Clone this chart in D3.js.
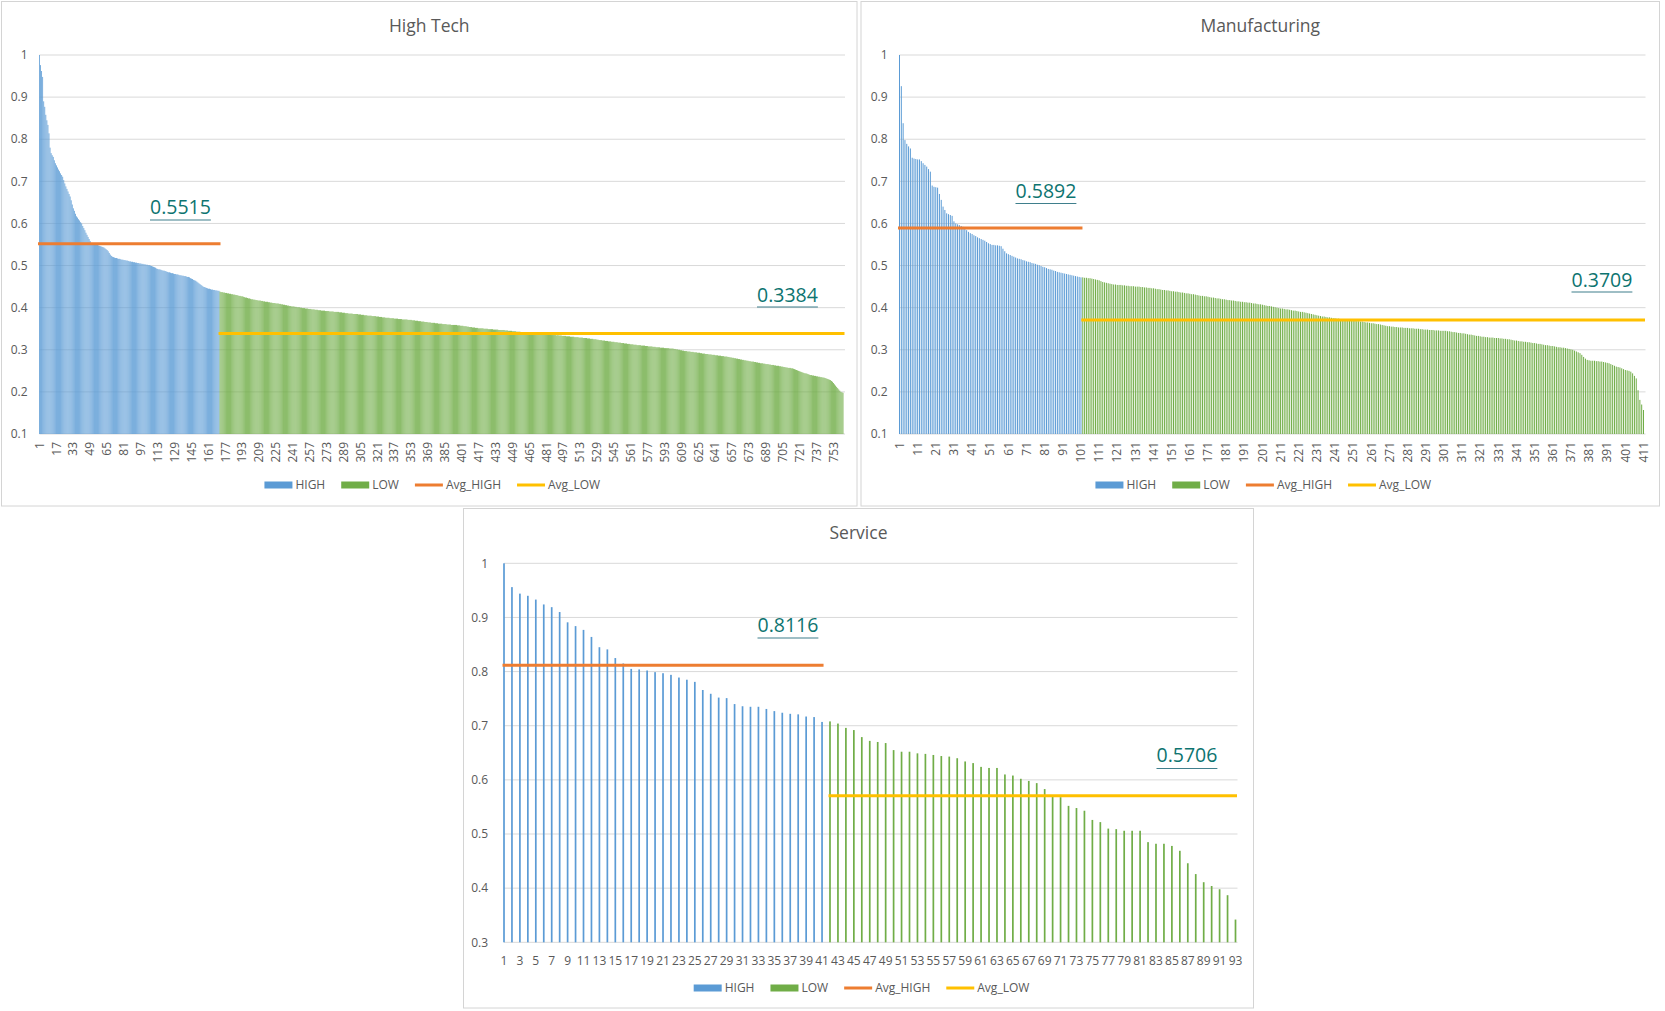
<!DOCTYPE html>
<html>
<head>
<meta charset="utf-8">
<script src="https://cdn.jsdelivr.net/npm/d3@7"></script>
<style>
  body { margin: 0; background: #fff; }
  svg { display: block; font-family: "Open Sans", sans-serif; }
</style>
</head>
<body>
<svg id="chart" width="1665" height="1011"></svg>
<script>
// values (sorted scores per firm)
const panelTitles = ["High Tech", "Manufacturing", "Service"];
const seriesNames = ["HIGH", "LOW", "Avg_HIGH", "Avg_LOW"];
const avgHigh = [0.5515, 0.5892, 0.8116];
const avgLow = [0.3384, 0.3709, 0.5706];
const yTicksTop = [0.1, 0.2, 0.3, 0.4, 0.5, 0.6, 0.7, 0.8, 0.9, 1];
const yTicksService = [0.3, 0.4, 0.5, 0.6, 0.7, 0.8, 0.9, 1];
const labelEvery = [16, 10, 2];

const highTechHigh = [
  1.000,0.976,0.962,0.948,0.890,0.877,0.858,0.845,0.834,0.814,
  0.780,0.767,0.762,0.758,0.750,0.743,0.738,0.733,0.728,0.724,
  0.719,0.715,0.711,0.703,0.695,0.688,0.682,0.676,0.670,0.664,
  0.655,0.645,0.636,0.630,0.623,0.617,0.614,0.610,0.607,0.603,
  0.600,0.594,0.589,0.584,0.578,0.573,0.568,0.563,0.558,0.553,
  0.552,0.552,0.551,0.551,0.550,0.549,0.548,0.547,0.546,0.545,
  0.544,0.543,0.541,0.539,0.537,0.534,0.530,0.526,0.523,0.521,
  0.520,0.519,0.518,0.518,0.517,0.516,0.516,0.515,0.514,0.514,
  0.513,0.513,0.512,0.512,0.511,0.510,0.510,0.509,0.509,0.508,
  0.508,0.507,0.507,0.506,0.506,0.505,0.505,0.504,0.504,0.503,
  0.503,0.502,0.502,0.501,0.501,0.500,0.499,0.498,0.497,0.496,
  0.495,0.493,0.492,0.491,0.491,0.490,0.489,0.488,0.488,0.487,
  0.486,0.485,0.484,0.484,0.483,0.482,0.482,0.481,0.480,0.480,
  0.479,0.479,0.478,0.477,0.477,0.476,0.476,0.475,0.475,0.474,
  0.473,0.473,0.472,0.470,0.469,0.468,0.466,0.465,0.464,0.462,
  0.460,0.458,0.456,0.454,0.452,0.450,0.449,0.448,0.447,0.446,
  0.445,0.445,0.444,0.443,0.443,0.442,0.442,0.441,0.441,0.440,0.440
];
const highTechLow = [
  0.438,0.437,0.437,0.436,0.436,0.435,0.435,0.434,0.434,0.433,
  0.433,0.432,0.432,0.431,0.431,0.430,0.430,0.429,0.428,0.428,
  0.427,0.427,0.426,0.425,0.424,0.424,0.423,0.422,0.422,0.421,
  0.420,0.420,0.419,0.419,0.418,0.418,0.417,0.417,0.417,0.416,
  0.416,0.415,0.415,0.414,0.414,0.414,0.413,0.413,0.412,0.412,
  0.411,0.411,0.411,0.410,0.410,0.410,0.409,0.409,0.408,0.408,
  0.407,0.407,0.406,0.406,0.405,0.405,0.404,0.404,0.403,0.403,
  0.403,0.402,0.402,0.401,0.401,0.401,0.400,0.400,0.399,0.399,
  0.399,0.398,0.398,0.398,0.397,0.397,0.397,0.396,0.396,0.396,
  0.395,0.395,0.395,0.394,0.394,0.394,0.393,0.393,0.393,0.393,
  0.392,0.392,0.392,0.392,0.391,0.391,0.391,0.391,0.390,0.390,
  0.390,0.390,0.390,0.389,0.389,0.389,0.388,0.388,0.388,0.387,
  0.387,0.387,0.386,0.386,0.386,0.386,0.385,0.385,0.385,0.385,
  0.385,0.384,0.384,0.384,0.383,0.383,0.383,0.382,0.382,0.382,
  0.381,0.381,0.381,0.381,0.380,0.380,0.380,0.380,0.379,0.379,
  0.379,0.378,0.378,0.378,0.377,0.377,0.377,0.376,0.376,0.376,
  0.376,0.375,0.375,0.375,0.375,0.374,0.374,0.374,0.374,0.373,
  0.373,0.373,0.373,0.372,0.372,0.372,0.372,0.372,0.371,0.371,
  0.371,0.371,0.370,0.370,0.370,0.369,0.369,0.369,0.368,0.368,
  0.368,0.367,0.367,0.367,0.366,0.366,0.366,0.365,0.365,0.365,
  0.364,0.364,0.364,0.364,0.363,0.363,0.363,0.362,0.362,0.362,
  0.362,0.361,0.361,0.361,0.361,0.360,0.360,0.360,0.360,0.359,
  0.359,0.359,0.359,0.359,0.359,0.358,0.358,0.358,0.357,0.357,
  0.357,0.356,0.356,0.356,0.355,0.355,0.354,0.354,0.354,0.353,
  0.353,0.353,0.352,0.352,0.352,0.351,0.351,0.351,0.351,0.351,
  0.350,0.350,0.350,0.350,0.349,0.349,0.349,0.349,0.349,0.348,
  0.348,0.348,0.348,0.348,0.347,0.347,0.347,0.347,0.347,0.347,
  0.346,0.346,0.346,0.345,0.345,0.345,0.345,0.344,0.344,0.344,
  0.344,0.343,0.343,0.343,0.343,0.342,0.342,0.342,0.342,0.341,
  0.341,0.341,0.341,0.340,0.340,0.340,0.340,0.339,0.339,0.339,
  0.339,0.338,0.338,0.338,0.338,0.337,0.337,0.337,0.337,0.336,
  0.336,0.336,0.336,0.336,0.335,0.335,0.335,0.335,0.335,0.334,
  0.335,0.334,0.334,0.334,0.333,0.333,0.333,0.333,0.332,0.332,
  0.332,0.332,0.331,0.331,0.331,0.331,0.330,0.330,0.330,0.330,
  0.329,0.329,0.329,0.329,0.328,0.328,0.328,0.328,0.327,0.327,
  0.327,0.326,0.326,0.326,0.325,0.325,0.325,0.324,0.324,0.323,
  0.323,0.323,0.322,0.322,0.322,0.321,0.321,0.321,0.320,0.320,
  0.320,0.319,0.319,0.319,0.318,0.318,0.318,0.317,0.317,0.317,
  0.316,0.316,0.316,0.315,0.315,0.315,0.314,0.314,0.314,0.313,
  0.313,0.313,0.312,0.312,0.312,0.311,0.311,0.311,0.311,0.310,
  0.310,0.310,0.310,0.309,0.309,0.309,0.308,0.308,0.308,0.308,
  0.307,0.307,0.307,0.306,0.306,0.306,0.306,0.305,0.305,0.305,
  0.305,0.304,0.304,0.304,0.304,0.304,0.303,0.303,0.303,0.303,
  0.302,0.302,0.301,0.301,0.300,0.300,0.299,0.299,0.298,0.298,
  0.297,0.297,0.297,0.296,0.296,0.296,0.295,0.295,0.295,0.294,
  0.294,0.294,0.293,0.293,0.293,0.292,0.292,0.291,0.291,0.291,
  0.290,0.290,0.290,0.289,0.289,0.289,0.288,0.288,0.288,0.287,
  0.287,0.287,0.286,0.286,0.286,0.285,0.285,0.285,0.284,0.284,
  0.284,0.283,0.283,0.282,0.282,0.281,0.281,0.280,0.280,0.279,
  0.279,0.278,0.278,0.277,0.277,0.276,0.276,0.275,0.275,0.274,
  0.274,0.273,0.273,0.272,0.272,0.272,0.271,0.271,0.270,0.270,
  0.269,0.269,0.268,0.268,0.268,0.267,0.267,0.266,0.266,0.266,
  0.265,0.265,0.264,0.264,0.264,0.263,0.263,0.262,0.262,0.262,
  0.261,0.261,0.260,0.260,0.259,0.259,0.258,0.258,0.257,0.257,
  0.257,0.256,0.256,0.255,0.254,0.253,0.252,0.251,0.250,0.249,
  0.248,0.247,0.246,0.245,0.244,0.244,0.243,0.242,0.241,0.240,
  0.240,0.239,0.239,0.238,0.238,0.237,0.237,0.236,0.236,0.235,
  0.235,0.234,0.234,0.233,0.232,0.231,0.230,0.229,0.228,0.226,
  0.224,0.221,0.218,0.215,0.212,0.209,0.206,0.203,0.200,0.199,0.198
];

const manufacturingHigh = [
  1.000,0.926,0.838,0.798,0.789,0.783,0.778,0.756,0.754,0.753,
  0.752,0.752,0.748,0.743,0.739,0.735,0.729,0.723,0.690,0.687,
  0.686,0.685,0.670,0.656,0.640,0.632,0.624,0.622,0.620,0.618,
  0.605,0.600,0.598,0.596,0.594,0.592,0.588,0.584,0.580,0.577,
  0.575,0.572,0.570,0.567,0.565,0.563,0.561,0.559,0.556,0.553,
  0.551,0.549,0.549,0.548,0.548,0.547,0.546,0.540,0.534,0.529,
  0.527,0.525,0.523,0.521,0.519,0.517,0.516,0.515,0.513,0.512,
  0.510,0.509,0.508,0.506,0.505,0.504,0.502,0.501,0.499,0.497,
  0.496,0.494,0.492,0.491,0.490,0.488,0.487,0.485,0.484,0.483,
  0.482,0.481,0.480,0.479,0.478,0.477,0.476,0.475,0.474,0.473,0.472
];
const manufacturingLow = [
  0.472,0.471,0.471,0.470,0.470,0.469,0.468,0.467,0.466,0.465,
  0.463,0.461,0.460,0.459,0.458,0.457,0.456,0.455,0.455,0.454,
  0.454,0.454,0.453,0.453,0.452,0.452,0.451,0.451,0.451,0.450,
  0.450,0.450,0.449,0.449,0.448,0.448,0.447,0.447,0.446,0.446,
  0.445,0.444,0.444,0.443,0.442,0.442,0.441,0.441,0.440,0.439,
  0.439,0.438,0.438,0.437,0.436,0.436,0.435,0.434,0.434,0.433,
  0.432,0.432,0.431,0.430,0.429,0.428,0.428,0.427,0.427,0.426,
  0.425,0.424,0.424,0.423,0.422,0.422,0.421,0.420,0.420,0.419,
  0.418,0.418,0.417,0.417,0.416,0.415,0.415,0.414,0.414,0.413,
  0.413,0.412,0.412,0.411,0.410,0.410,0.409,0.408,0.408,0.407,
  0.406,0.405,0.404,0.404,0.403,0.402,0.401,0.400,0.399,0.398,
  0.398,0.397,0.396,0.396,0.395,0.394,0.393,0.393,0.392,0.391,
  0.390,0.390,0.389,0.388,0.387,0.386,0.385,0.384,0.383,0.382,
  0.381,0.380,0.379,0.379,0.378,0.377,0.377,0.376,0.375,0.375,
  0.374,0.374,0.373,0.372,0.372,0.371,0.371,0.370,0.370,0.369,
  0.369,0.368,0.368,0.367,0.367,0.366,0.365,0.365,0.364,0.363,
  0.363,0.362,0.361,0.361,0.360,0.359,0.358,0.357,0.356,0.356,
  0.355,0.355,0.354,0.354,0.353,0.353,0.353,0.352,0.352,0.352,
  0.351,0.351,0.351,0.350,0.350,0.350,0.349,0.349,0.348,0.348,
  0.348,0.347,0.347,0.347,0.346,0.346,0.346,0.345,0.345,0.345,
  0.345,0.344,0.344,0.343,0.342,0.342,0.341,0.340,0.340,0.339,
  0.339,0.338,0.337,0.336,0.336,0.335,0.334,0.333,0.333,0.332,
  0.331,0.331,0.330,0.330,0.329,0.329,0.329,0.328,0.328,0.328,
  0.327,0.327,0.326,0.326,0.325,0.325,0.324,0.323,0.322,0.322,
  0.321,0.320,0.320,0.319,0.319,0.318,0.318,0.317,0.316,0.316,
  0.315,0.314,0.314,0.313,0.312,0.311,0.311,0.310,0.309,0.309,
  0.308,0.307,0.306,0.306,0.305,0.305,0.304,0.303,0.302,0.301,
  0.300,0.298,0.296,0.294,0.292,0.288,0.283,0.279,0.276,0.275,
  0.274,0.274,0.274,0.273,0.273,0.272,0.272,0.271,0.270,0.269,
  0.268,0.266,0.264,0.262,0.260,0.259,0.258,0.256,0.254,0.252,
  0.251,0.250,0.248,0.244,0.238,0.232,0.204,0.181,0.170,0.157
];

const serviceHigh = [
  1.000,0.956,0.944,0.940,0.933,0.924,0.919,0.910,0.891,0.884,
  0.877,0.864,0.845,0.841,0.825,0.815,0.805,0.804,0.802,0.799,
  0.797,0.794,0.789,0.785,0.781,0.766,0.759,0.752,0.751,0.740,
  0.736,0.735,0.735,0.731,0.727,0.724,0.722,0.721,0.717,0.716,
  0.707
];
const serviceLow = [
  0.708,0.704,0.696,0.692,0.679,0.672,0.670,0.668,0.655,0.652,
  0.652,0.649,0.648,0.646,0.644,0.643,0.640,0.634,0.631,0.624,
  0.622,0.622,0.610,0.608,0.602,0.598,0.594,0.583,0.569,0.568,
  0.552,0.548,0.543,0.526,0.522,0.510,0.509,0.506,0.506,0.506,
  0.485,0.482,0.482,0.478,0.469,0.446,0.426,0.411,0.404,0.398,
  0.387,0.342
];

const colors = { HIGH: "#5B9BD5", LOW: "#70AD47", Avg_HIGH: "#ED7D31", Avg_LOW: "#FFC000" };
const textColor = "#595959";
const gridColor = "#d9d9d9";
const noteColor = "#0d7470";

// layout for each panel (pixels)
const panels = [
  { box: [1.5, 1.5, 855.5, 504.5], plot: { left: 39.5, right: 843, top: 55, bottom: 434 },
    yTicks: yTicksTop, high: highTechHigh, low: highTechLow, barW: 0.8, rotate: true,
    yGap: 12, legendY: 485, notes: [[150, 214, 220], [757, 302, 307]] },
  { box: [861, 1.5, 798.5, 504.5], plot: { left: 899.5, right: 1643.5, top: 55, bottom: 434 },
    yTicks: yTicksTop, high: manufacturingHigh, low: manufacturingLow, barW: 1.0, rotate: true,
    yGap: 12, legendY: 485, notes: [[1015.5, 198, 203.5], [1571.5, 286.5, 292]] },
  { box: [463.5, 508.5, 790, 499.5], plot: { left: 504, right: 1235.5, top: 563.3, bottom: 942.3 },
    yTicks: yTicksService, high: serviceHigh, low: serviceLow, barW: 1.7, rotate: false,
    yGap: 16, legendY: 988, notes: [[757.5, 632, 638], [1156.5, 762, 768.5]] }
];

const svg = d3.select("#chart");

panels.forEach((p, k) => {
  const g = svg.append("g");
  const [bx, by, bw, bh] = p.box;

  g.append("rect")
    .attr("x", bx).attr("y", by).attr("width", bw).attr("height", bh)
    .attr("fill", "#fff").attr("stroke", "#d4d4d4");

  g.append("text")
    .attr("x", bx + bw / 2).attr("y", by + 30)
    .attr("text-anchor", "middle")
    .attr("font-size", 17.5).attr("fill", textColor)
    .text(panelTitles[k]);

  const items = p.high.map((v, i) => ({ i: i + 1, v, s: "HIGH" }))
    .concat(p.low.map((v, i) => ({ i: p.high.length + i + 1, v, s: "LOW" })));

  const x = d3.scalePoint()
    .domain(items.map(d => d.i))
    .range([p.plot.left, p.plot.right]);
  const yMin = p.yTicks[0], yMax = p.yTicks[p.yTicks.length - 1];
  const y = d3.scaleLinear().domain([yMin, yMax]).range([p.plot.bottom, p.plot.top]);

  // gridlines
  g.append("g").selectAll("line").data(p.yTicks).join("line")
    .attr("x1", p.plot.left).attr("x2", p.plot.right + 2)
    .attr("y1", d => y(d)).attr("y2", d => y(d))
    .attr("stroke", gridColor).attr("stroke-width", 1);

  // y tick labels
  g.append("g").selectAll("text").data(p.yTicks).join("text")
    .attr("x", p.plot.left - p.yGap).attr("y", d => y(d))
    .attr("dy", "0.35em").attr("text-anchor", "end")
    .attr("font-size", 12).attr("fill", textColor)
    .text(d => d3.format("~g")(d));

  // bars
  g.append("g").selectAll("rect").data(items).join("rect")
    .attr("x", d => x(d.i) - p.barW / 2)
    .attr("width", p.barW)
    .attr("y", d => y(d.v))
    .attr("height", d => y(yMin) - y(d.v))
    .attr("fill", d => colors[d.s]);

  // average lines over each group
  const lastHigh = p.high.length, total = items.length;
  const avgLines = [
    { s: "Avg_HIGH", v: avgHigh[k], from: 1, to: lastHigh },
    { s: "Avg_LOW", v: avgLow[k], from: lastHigh + 1, to: total }
  ];
  g.append("g").selectAll("line").data(avgLines).join("line")
    .attr("x1", d => x(d.from)).attr("x2", d => x(d.to))
    .attr("y1", d => y(d.v)).attr("y2", d => y(d.v))
    .attr("stroke", d => colors[d.s]).attr("stroke-width", 3)
    .attr("stroke-linecap", "square");

  // x tick labels
  const every = labelEvery[k];
  const labels = items.filter(d => (d.i - 1) % every === 0);
  const xl = g.append("g").selectAll("text").data(labels).join("text")
    .attr("font-size", 12).attr("fill", textColor)
    .text(d => d.i);
  if (p.rotate) {
    xl.attr("transform", d => `translate(${x(d.i)},${p.plot.bottom + 8}) rotate(-90)`)
      .attr("text-anchor", "end").attr("dy", "0.35em");
  } else {
    xl.attr("x", d => x(d.i)).attr("y", p.plot.bottom + 18)
      .attr("text-anchor", "middle").attr("dy", "0.35em");
  }

  // average annotations
  [avgHigh[k], avgLow[k]].forEach((v, j) => {
    const [nx, ny, uy] = p.notes[j];
    const t = g.append("text")
      .attr("x", nx).attr("y", ny)
      .attr("font-size", 19.5).attr("fill", noteColor)
      .text(v.toFixed(4));
    const w = t.node().getComputedTextLength();
    g.append("line")
      .attr("x1", nx).attr("x2", nx + w)
      .attr("y1", uy).attr("y2", uy)
      .attr("stroke", "#3f7f8c").attr("stroke-width", 1.2);
  });

  // legend
  const leg = g.append("g");
  let lx = 0;
  seriesNames.forEach((name, i) => {
    const it = leg.append("g").attr("transform", `translate(${lx},0)`);
    if (i < 2) {
      it.append("rect").attr("x", 0).attr("y", -3.5).attr("width", 28).attr("height", 7)
        .attr("fill", colors[name]);
    } else {
      it.append("line").attr("x1", 0).attr("x2", 28)
        .attr("stroke", colors[name]).attr("stroke-width", 3);
    }
    const t = it.append("text").attr("x", 31).attr("dy", "0.35em")
      .attr("font-size", 12).attr("fill", textColor).text(name);
    lx += 31 + t.node().getComputedTextLength() + 16;
  });
  const legW = lx - 16;
  leg.attr("transform", `translate(${bx + bw / 2 + 3 - legW / 2},${p.legendY})`);
});
</script>
</body>
</html>
